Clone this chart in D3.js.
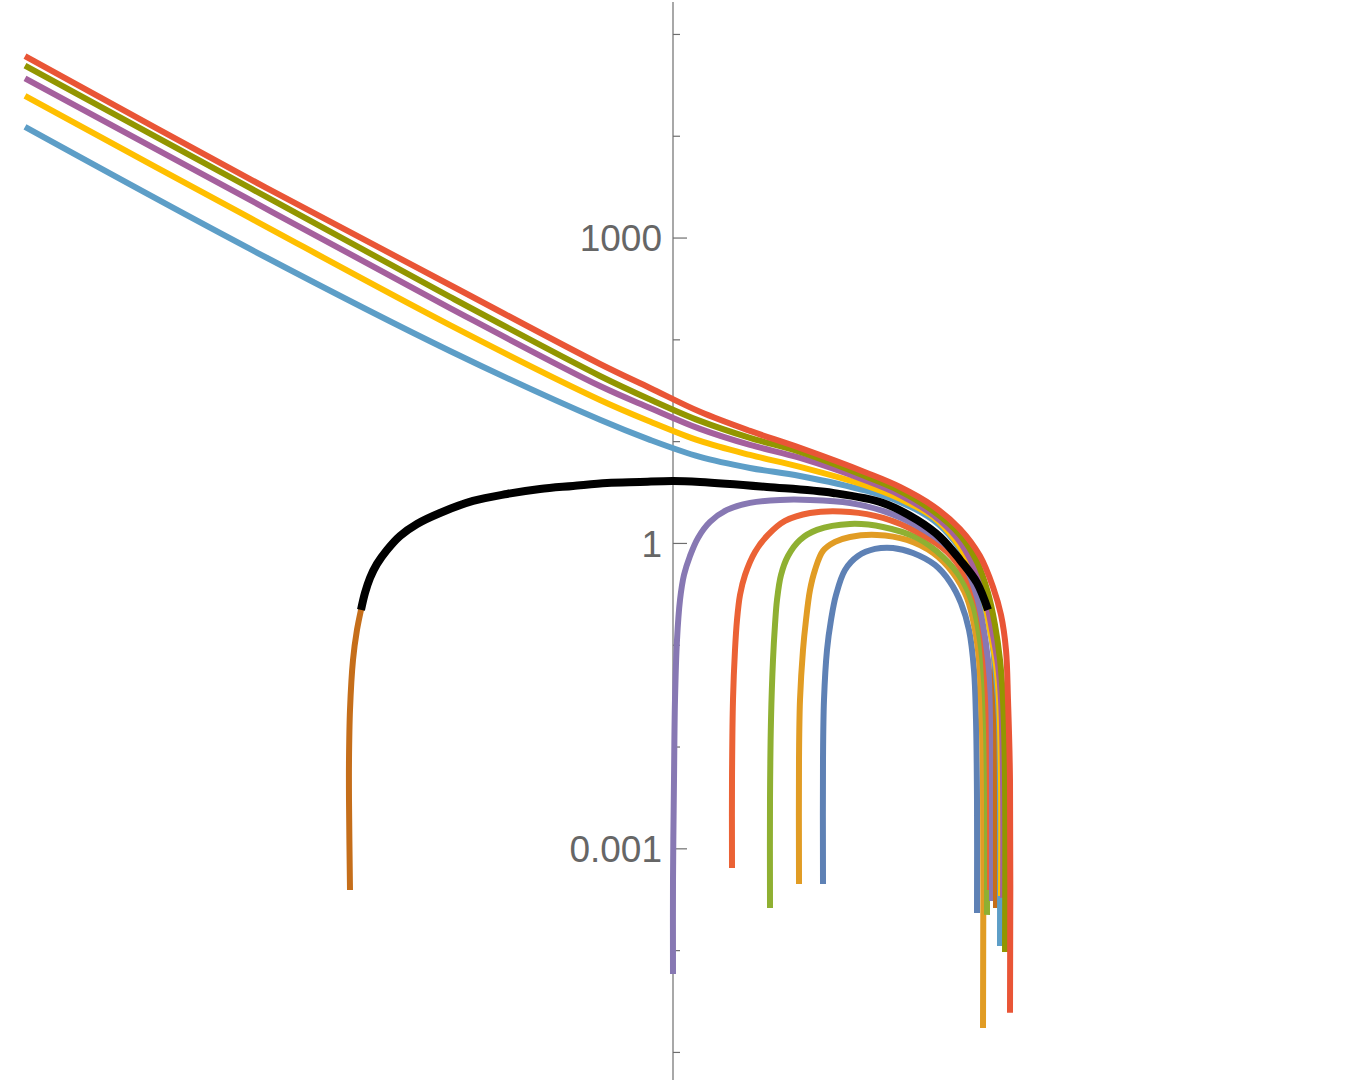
<!DOCTYPE html>
<html>
<head>
<meta charset="utf-8">
<script src="https://cdn.jsdelivr.net/npm/d3@7"></script>
<style>
  html, body { margin: 0; padding: 0; background: #ffffff; }
  svg { display: block; }
</style>
</head>
<body>
<svg id="chart" width="1350" height="1088"></svg>
<script>
// ---------------- data (x in plot units, y in plotted value) ----------------
const yTickValues = [1e-5, 1e-4, 1e-3, 1e-2, 1e-1, 1, 10, 100, 1e3, 1e4, 1e5];
const yTickLabels = ["", "", "0.001", "", "", "1", "", "", "1000", "", ""];
const yMajorTicks = [1e-3, 1, 1e3];
const xExtent = [-6.73, 6.77];
const yExtent = [5.3e-6, 2.06e5];

const curve1 = [[1.50,4.47e-4],[1.50,7.38e-3],[1.51,0.0287],[1.54,0.0889],[1.58,0.175],[1.63,0.308],[1.72,0.543],[1.85,0.745],[2.02,0.873],[2.20,0.893],[2.40,0.797],[2.62,0.608],[2.77,0.414],[2.88,0.257],[2.96,0.140],[3.01,0.0566],[3.03,0.0183],[3.04,2.99e-3],[3.04,2.32e-4]];
const curve2 = [[1.26,4.47e-4],[1.26,7.38e-3],[1.27,0.0287],[1.30,0.0889],[1.33,0.175],[1.37,0.345],[1.42,0.543],[1.50,0.834],[1.62,1.023],[1.77,1.145],[2.04,1.198],[2.34,1.070],[2.60,0.798],[2.80,0.507],[2.94,0.288],[3.02,0.140],[3.06,0.0709],[3.08,0.0287],[3.10,4.70e-3],[3.10,1.72e-5]];
const curve3 = [[0.97,2.60e-4],[0.97,2.99e-3],[0.98,0.0183],[1.00,0.0709],[1.02,0.157],[1.04,0.275],[1.08,0.485],[1.15,0.745],[1.27,1.070],[1.44,1.342],[1.77,1.537],[2.10,1.436],[2.44,1.120],[2.70,0.729],[2.89,0.433],[3.00,0.246],[3.07,0.1114],[3.11,0.0451],[3.13,0.01456],[3.14,2.99e-3],[3.14,2.22e-4]];
const curve4 = [[0.59,6.42e-4],[0.59,4.70e-3],[0.60,0.0287],[0.62,0.0889],[0.64,0.175],[0.67,0.308],[0.72,0.485],[0.82,0.816],[0.95,1.198],[1.12,1.645],[1.37,1.971],[1.77,2.016],[2.10,1.761],[2.44,1.282],[2.74,0.816],[2.93,0.4635],[3.05,0.246],[3.11,0.1114],[3.14,0.0451],[3.16,0.01456],[3.17,2.99e-3],[3.17,3.90e-4]];
const curve5 = [[0.00,5.83e-5],[0.00,4.90e-4],[0.01,4.70e-3],[0.02,0.0287],[0.04,0.1114],[0.07,0.275],[0.11,0.485],[0.17,0.745],[0.25,1.120],[0.37,1.608],[0.54,2.110],[0.77,2.472],[1.07,2.646],[1.37,2.646],[1.77,2.472],[2.10,2.062],[2.44,1.469],[2.77,0.873],[2.94,0.543],[3.04,0.295],[3.10,0.157],[3.15,0.0709],[3.18,0.0287],[3.19,4.70e-3],[3.19,3.04e-4]];
const curve6 = [[-3.23,3.90e-4],[-3.24,2.99e-3],[-3.24,7.38e-3],[-3.23,0.0229],[-3.20,0.0709],[-3.16,0.140],[-3.12,0.220],[-3.08,0.323],[-3.03,0.453],[-2.96,0.622],[-2.86,0.853],[-2.73,1.172],[-2.56,1.537],[-2.33,1.971],[-2.00,2.586],[-1.66,3.029],[-1.33,3.393],[-1.00,3.631],[-0.66,3.884],[-0.33,3.975],[0.00,4.064],[0.27,3.975],[0.94,3.549],[1.60,3.098],[2.10,2.472],[2.44,1.683],[2.67,1.145],[2.87,0.681],[3.04,0.405],[3.15,0.220],[3.20,0.1114],[3.22,0.0451],[3.23,0.0183],[3.23,2.99e-3],[3.23,2.60e-4]];
const blackCurve = [[-3.12,0.220],[-3.08,0.323],[-3.03,0.453],[-2.96,0.622],[-2.86,0.853],[-2.73,1.172],[-2.56,1.537],[-2.33,1.971],[-2.00,2.586],[-1.66,3.029],[-1.33,3.393],[-1.00,3.631],[-0.66,3.884],[-0.33,3.975],[0.00,4.064],[0.27,3.975],[0.94,3.549],[1.60,3.098],[2.10,2.472],[2.44,1.683],[2.67,1.145],[2.87,0.681],[3.04,0.405],[3.15,0.220]];
const curve7 = [[-6.48,1.22e4],[-4.23,773],[-2.23,76.9],[-0.73,16.2],[-0.23,10.3],[0.27,7.00],[0.77,5.45],[1.27,4.55],[1.94,3.24],[2.27,2.53],[2.60,1.683],[2.82,1.023],[2.97,0.581],[3.09,0.295],[3.18,0.125],[3.23,0.0505],[3.26,0.0183],[3.27,2.99e-3],[3.27,1.10e-4]];
const curve8 = [[-6.48,2.46e4],[-4.23,1558],[-2.23,138],[-0.73,25.4],[-0.23,15.6],[0.27,10.05],[0.77,7.32],[1.27,5.58],[1.94,3.63],[2.27,2.71],[2.60,1.800],[2.82,1.070],[2.97,0.608],[3.10,0.295],[3.17,0.140],[3.23,0.0633],[3.26,0.0287],[3.28,4.70e-3],[3.28,3.41e-4]];
const curve9 = [[-6.48,3.67e4],[-4.23,2340],[-2.23,203],[-0.73,34.8],[-0.23,21.2],[0.27,13.2],[0.77,9.18],[1.27,6.84],[1.94,4.064],[2.27,2.96],[2.60,1.884],[2.84,1.120],[3.00,0.608],[3.12,0.295],[3.19,0.140],[3.25,0.0633],[3.28,0.0287],[3.30,4.70e-3],[3.30,3.26e-4]];
const curve10 = [[-6.48,4.88e4],[-4.23,3070],[-2.23,261],[-0.73,43.7],[-0.23,25.7],[0.27,15.8],[0.77,10.75],[1.27,7.83],[1.94,4.45],[2.27,3.24],[2.60,2.062],[2.87,1.198],[3.04,0.651],[3.15,0.323],[3.22,0.157],[3.27,0.0709],[3.30,0.0287],[3.32,4.70e-3],[3.32,9.60e-5]];
const curve11 = [[-6.48,6.04e4],[-4.23,3750],[-2.23,342],[-0.73,57.3],[-0.23,33.3],[0.27,19.4],[0.77,12.6],[1.27,8.58],[1.94,4.87],[2.27,3.549],[2.60,2.31],[2.87,1.373],[3.07,0.745],[3.20,0.370],[3.28,0.196],[3.33,0.0889],[3.35,0.0287],[3.37,4.70e-3],[3.37,2.42e-5]];

const seriesOrder = [curve1, curve2, curve3, curve4, curve5, curve6, curve7, curve8, curve9, curve10, curve11];
const seriesColors = ["#5E81B5", "#E19C24", "#8FB032", "#EB6235", "#8778B3", "#C56E1A", "#5D9EC7", "#FFBF00", "#A5609D", "#929600", "#E95536"];

// ---------------- drawing ----------------
const svg = d3.select("#chart");
const W = 1350;

const x = d3.scaleLinear().domain(xExtent).range([0, W]);
const y = d3.scaleLog().domain(yExtent).range([1080, 2]);

const line = d3.line()
  .x(d => x(d[0]))
  .y(d => y(d[1]))
  .curve(d3.curveCatmullRom.alpha(0.5));

// axis
const axisG = svg.append("g").attr("transform", `translate(${x(0)},0)`);
const axis = d3.axisLeft(y)
  .tickValues(yTickValues)
  .tickFormat((d, i) => yTickLabels[i])
  .tickSizeInner(-7)
  .tickSizeOuter(0)
  .tickPadding(11);
axisG.call(axis);
axisG.select(".domain").remove();
axisG.append("line")
  .attr("x1", 0).attr("x2", 0)
  .attr("y1", y(yExtent[1])).attr("y2", y(yExtent[0]))
  .attr("stroke", "#6e6e6e").attr("stroke-width", 1.2);
axisG.selectAll(".tick line")
  .attr("stroke", "#6e6e6e")
  .attr("stroke-width", 1.2)
  .attr("x2", d => yMajorTicks.includes(d) ? 14 : 7);
axisG.selectAll(".tick text")
  .attr("fill", "#666666")
  .style("font-family", "'Liberation Sans', Arial, sans-serif")
  .style("font-size", "37px")
  .attr("dy", "0.36em");

// curves
const curvesG = svg.append("g");
seriesOrder.forEach((data, i) => {
  curvesG.append("path")
    .datum(data)
    .attr("d", line)
    .attr("fill", "none")
    .attr("stroke", seriesColors[i])
    .attr("stroke-width", 6)
    .attr("stroke-linejoin", "round");
});
curvesG.append("path")
  .datum(blackCurve)
  .attr("d", line)
  .attr("fill", "none")
  .attr("stroke", "#000000")
  .attr("stroke-width", 8)
  .attr("stroke-linejoin", "round");
</script>
</body>
</html>
